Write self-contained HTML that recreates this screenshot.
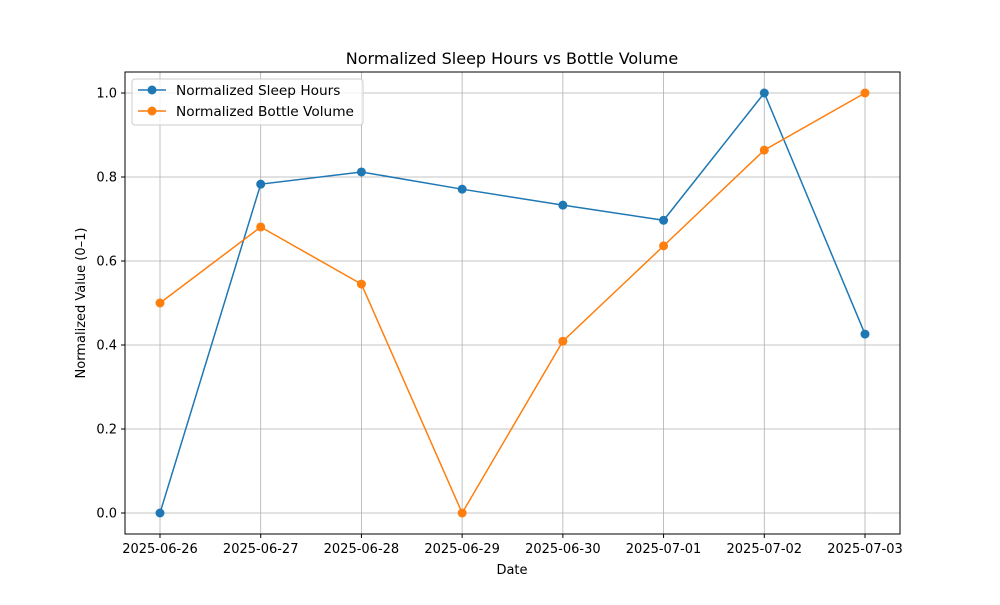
<!DOCTYPE html>
<html><head><meta charset="utf-8"><style>
body{margin:0;background:#fff;font-family:"Liberation Sans","DejaVu Sans",sans-serif;}
</style></head><body>
<svg id="chart" width="1000" height="600" xmlns="http://www.w3.org/2000/svg" font-family="DejaVu Sans, Liberation Sans, sans-serif">
<rect width="1000" height="600" fill="#fff"/>
<g id="grid"></g>
<g id="series"></g>
<rect x="125" y="72" width="775" height="462" fill="none" stroke="#000" stroke-width="1"/>
<g id="ticks"></g>
<text x="512" y="64" text-anchor="middle" font-size="16">Normalized Sleep Hours vs Bottle Volume</text>
<text x="512" y="574" text-anchor="middle" font-size="13">Date</text>
<text transform="translate(85,303) rotate(-90)" text-anchor="middle" font-size="13">Normalized Value (0–1)</text>
<g>
<rect x="132" y="79" width="231" height="46" fill="#fff" fill-opacity="0.8" stroke="#ccc" rx="3"/>
<g>
<line x1="138" y1="90" x2="166" y2="90" stroke="#1f77b4" stroke-width="1.5"/><circle cx="152" cy="90" r="4.5" fill="#1f77b4"/>
<text x="176" y="95" font-size="13.7">Normalized Sleep Hours</text></g>
<g>
<line x1="138" y1="111" x2="166" y2="111" stroke="#ff7f0e" stroke-width="1.5"/><circle cx="152" cy="111" r="4.5" fill="#ff7f0e"/>
<text x="176" y="116" font-size="13.7">Normalized Bottle Volume</text></g>
</g>
</svg>
<script>
const categories=["2025-06-26","2025-06-27","2025-06-28","2025-06-29","2025-06-30","2025-07-01","2025-07-02","2025-07-03"];
const sleepValues=[0,0.783,0.812,0.771,0.733,0.697,1.0,0.426];
const bottleValues=[0.5,0.681,0.545,0,0.409,0.636,0.864,1.0];
const yTicks=[0,0.2,0.4,0.6,0.8,1.0];
const NS="http://www.w3.org/2000/svg";
const xs=i=>160+i*(865-160)/(categories.length-1);
const ys=v=>513-v*420;
const grid=document.getElementById('grid'),ticks=document.getElementById('ticks'),ser=document.getElementById('series');
function mk(tag,attrs,parent){const e=document.createElementNS(NS,tag);for(const k in attrs)e.setAttribute(k,attrs[k]);parent.appendChild(e);return e;}
categories.forEach((c,i)=>{
 const g=mk('line',{x1:xs(i),x2:xs(i),y1:72,y2:534,stroke:'#b0b0b0','stroke-width':0.8},grid);
 
 
 mk('line',{x1:xs(i),x2:xs(i),y1:534,y2:538,stroke:'#000'},ticks);
 const t=mk('text',{x:xs(i),y:553,'text-anchor':'middle','font-size':13},ticks);t.textContent=c;
 
 
});
yTicks.forEach(v=>{
 const g=mk('line',{x1:125,x2:900,y1:ys(v),y2:ys(v),stroke:'#b0b0b0','stroke-width':0.8},grid);
 
 
 mk('line',{x1:121,x2:125,y1:ys(v),y2:ys(v),stroke:'#000'},ticks);
 const t=mk('text',{x:117,y:ys(v)+4.5,'text-anchor':'end','font-size':13},ticks);t.textContent=v.toFixed(1);
 
 
});
function draw(vals,color,name){
 const p=mk('polyline',{points:vals.map((v,i)=>xs(i)+','+ys(v)).join(' '),fill:'none',stroke:color,'stroke-width':1.5},ser);
 
 
 vals.forEach((v,i)=>{const c=mk('circle',{cx:xs(i),cy:ys(v),r:4.5,fill:color},ser);
  
  });
}
draw(sleepValues,'#1f77b4','sleep');
draw(bottleValues,'#ff7f0e','bottle');
</script>
</body></html>
